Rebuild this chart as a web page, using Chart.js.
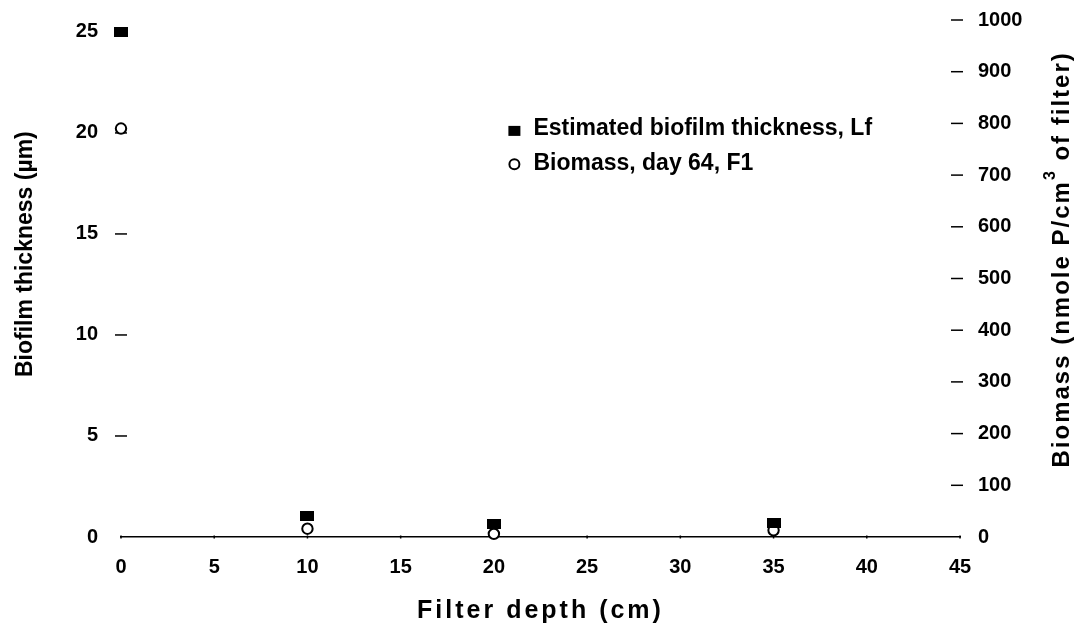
<!DOCTYPE html>
<html>
<head>
<meta charset="utf-8">
<script src="https://cdn.jsdelivr.net/npm/chart.js@4/dist/chart.umd.min.js"></script>
<style>
  html, body { margin: 0; padding: 0; background: #fff; }
  #wrap { width: 1084px; height: 630px; position: relative; }
</style>
</head>
<body>
<div id="wrap"><canvas id="c" width="1084" height="630"></canvas></div>
<script>
// Filter depth (cm) of each sampling point
const depths = [0, 10, 20, 35];
// Estimated biofilm thickness Lf (µm), left axis
const thickness = [25.0, 1.06, 0.65, 0.7];
// Biomass on day 64 in filter F1 (nmole P/cm³ of filter), right axis
const biomass = [790, 16, 6, 13];

const xTicks = [0, 5, 10, 15, 20, 25, 30, 35, 40, 45];
const leftTicks = [0, 5, 10, 15, 20, 25];
const rightTicks = [0, 100, 200, 300, 400, 500, 600, 700, 800, 900, 1000];

const seriesLabels = ['Estimated biofilm thickness, Lf', 'Biomass, day 64, F1'];
const xTitle = 'Filter depth (cm)';
const leftTitle = 'Biofilm thickness (µm)';
// right title with a raised "3" for cm³
const rightTitleParts = ['Biomass (nmole P/cm', '3', ' of filter)'];

const FONT = '"Liberation Sans", Arial, sans-serif';
const TICK_FONT = { family: FONT, size: 20, weight: 'bold' };

const toPoints = (xs, ys) => xs.map((x, i) => ({ x, y: ys[i] }));

// Filled marker slightly wider than tall, used for the thickness series
function blockMarker(w, h) {
  const c = document.createElement('canvas');
  c.width = w; c.height = h;
  const g = c.getContext('2d');
  g.fillStyle = '#000';
  g.fillRect(0, 0, w, h);
  return c;
}

// Short dash marks centred on each y-axis position, plus small ticks on the x axis line
const tickDashes = {
  id: 'tickDashes',
  beforeDatasetsDraw(chart) {
    const ctx = chart.ctx;
    ctx.save();
    ctx.strokeStyle = '#000';
    ctx.lineWidth = 1.5;
    const yl = chart.scales.yL, yr = chart.scales.yR, x = chart.scales.x;
    leftTicks.forEach(v => {
      if (v === 0) return;
      const py = yl.getPixelForValue(v);
      ctx.beginPath(); ctx.moveTo(yl.right - 6, py); ctx.lineTo(yl.right + 6, py); ctx.stroke();
    });
    rightTicks.forEach(v => {
      if (v === 0) return;
      const py = yr.getPixelForValue(v);
      ctx.beginPath(); ctx.moveTo(yr.left - 9, py); ctx.lineTo(yr.left + 3, py); ctx.stroke();
    });
    const base = x.top;
    xTicks.forEach(v => {
      const px = x.getPixelForValue(v);
      ctx.beginPath(); ctx.moveTo(px, base - 1.5); ctx.lineTo(px, base + 1.5); ctx.stroke();
    });
    ctx.restore();
  }
};

function spacedText(ctx, text, x, y, spacing) {
  if ('letterSpacing' in ctx) ctx.letterSpacing = spacing + 'px';
  ctx.fillText(text, x, y);
  if ('letterSpacing' in ctx) ctx.letterSpacing = '0px';
}
function spacedWidth(ctx, text, spacing) {
  if ('letterSpacing' in ctx) ctx.letterSpacing = spacing + 'px';
  const w = ctx.measureText(text).width;
  if ('letterSpacing' in ctx) ctx.letterSpacing = '0px';
  return w;
}

// Legend inside the plot area and the three axis titles
const overlay = {
  id: 'overlay',
  afterDraw(chart) {
    const ctx = chart.ctx;
    const xs = chart.scales.x, yl = chart.scales.yL, yr = chart.scales.yR;
    ctx.save();
    ctx.fillStyle = '#000';
    // legend
    const lx = xs.getPixelForValue(21.1);
    const rows = [yl.getPixelForValue(20.2), yl.getPixelForValue(18.5)];
    ctx.font = 'bold 23px ' + FONT;
    ctx.textBaseline = 'middle';
    ctx.textAlign = 'left';
    chart.data.datasets.forEach((ds, i) => {
      const y = rows[i];
      if (i === 0) {
        ctx.fillStyle = '#000';
        ctx.fillRect(lx - 6, y - 3, 12, 10);
      } else {
        ctx.beginPath();
        ctx.lineWidth = 2;
        ctx.strokeStyle = '#000';
        ctx.fillStyle = '#fff';
        ctx.arc(lx, y + 1, 5, 0, Math.PI * 2);
        ctx.fill(); ctx.stroke();
      }
      ctx.fillStyle = '#000';
      ctx.fillText(ds.label, lx + 19, y);
    });

    ctx.textAlign = 'center';
    ctx.textBaseline = 'middle';
    // x axis title
    ctx.font = 'bold 25px ' + FONT;
    spacedText(ctx, xTitle, (xs.left + xs.right) / 2, 611, 3);
    // left axis title
    ctx.save();
    ctx.translate(26, yl.getPixelForValue(14));
    ctx.rotate(-Math.PI / 2);
    ctx.font = 'bold 23px ' + FONT;
    ctx.fillText(leftTitle, 0, 0);
    ctx.restore();
    // right axis title, read bottom-to-top
    ctx.save();
    ctx.translate(1062, yr.getPixelForValue(537) );
    ctx.rotate(-Math.PI / 2);
    ctx.textAlign = 'left';
    const big = 'bold 24px ' + FONT, small = 'bold 16px ' + FONT, sp = 2;
    ctx.font = big;
    const w1 = spacedWidth(ctx, rightTitleParts[0], sp);
    const w3 = spacedWidth(ctx, rightTitleParts[2], sp);
    ctx.font = small;
    const w2 = spacedWidth(ctx, rightTitleParts[1], sp);
    let x0 = -(w1 + w2 + w3) / 2;
    ctx.font = big;
    spacedText(ctx, rightTitleParts[0], x0, 0, sp);
    ctx.font = small;
    spacedText(ctx, rightTitleParts[1], x0 + w1, -11, sp);
    ctx.font = big;
    spacedText(ctx, rightTitleParts[2], x0 + w1 + w2, 0, sp);
    ctx.restore();
    ctx.restore();
  }
};

new Chart(document.getElementById('c'), {
  type: 'scatter',
  data: {
    datasets: [
      {
        label: seriesLabels[0],
        data: toPoints(depths, thickness),
        yAxisID: 'yL',
        pointStyle: blockMarker(14, 10),
        pointRadius: 7,
        backgroundColor: '#000',
        borderColor: '#000',
        borderWidth: 0,
        clip: false
      },
      {
        label: seriesLabels[1],
        data: toPoints(depths, biomass),
        yAxisID: 'yR',
        pointStyle: 'circle',
        pointRadius: 5.2,
        backgroundColor: '#fff',
        borderColor: '#000',
        borderWidth: 2,
        clip: false
      }
    ]
  },
  options: {
    responsive: false,
    animation: false,
    devicePixelRatio: 1,
    layout: { padding: { top: 20, left: 0, right: 0, bottom: 0 } },
    plugins: { legend: { display: false }, tooltip: { enabled: false } },
    scales: {
      x: {
        type: 'linear',
        min: 0, max: 45,
        afterBuildTicks: s => { s.ticks = xTicks.map(v => ({ value: v })); },
        afterFit: s => { s.height = 93; },
        grid: { display: true, drawOnChartArea: false, drawTicks: true, tickLength: 6, tickColor: 'rgba(0,0,0,0)' },
        border: { display: true, color: '#000', width: 1.5 },
        ticks: { color: '#000', padding: 12, font: TICK_FONT, callback: v => String(v) }
      },
      yL: {
        type: 'linear', position: 'left',
        min: 0, max: 25.59,
        afterBuildTicks: s => { s.ticks = leftTicks.map(v => ({ value: v })); },
        afterFit: s => { s.width = 121; },
        grid: { display: true, drawOnChartArea: false, drawTicks: true, tickLength: 19, tickColor: 'rgba(0,0,0,0)' },
        border: { display: false },
        ticks: { color: '#000', padding: 4, font: TICK_FONT, callback: v => String(v) }
      },
      yR: {
        type: 'linear', position: 'right',
        min: 0, max: 1000,
        afterBuildTicks: s => { s.ticks = rightTicks.map(v => ({ value: v })); },
        afterFit: s => { s.width = 124; },
        grid: { display: true, drawOnChartArea: false, drawTicks: true, tickLength: 14, tickColor: 'rgba(0,0,0,0)' },
        border: { display: false },
        ticks: { color: '#000', padding: 4, font: TICK_FONT, callback: v => String(v) }
      }
    }
  },
  plugins: [tickDashes, overlay]
});
</script>
</body>
</html>
